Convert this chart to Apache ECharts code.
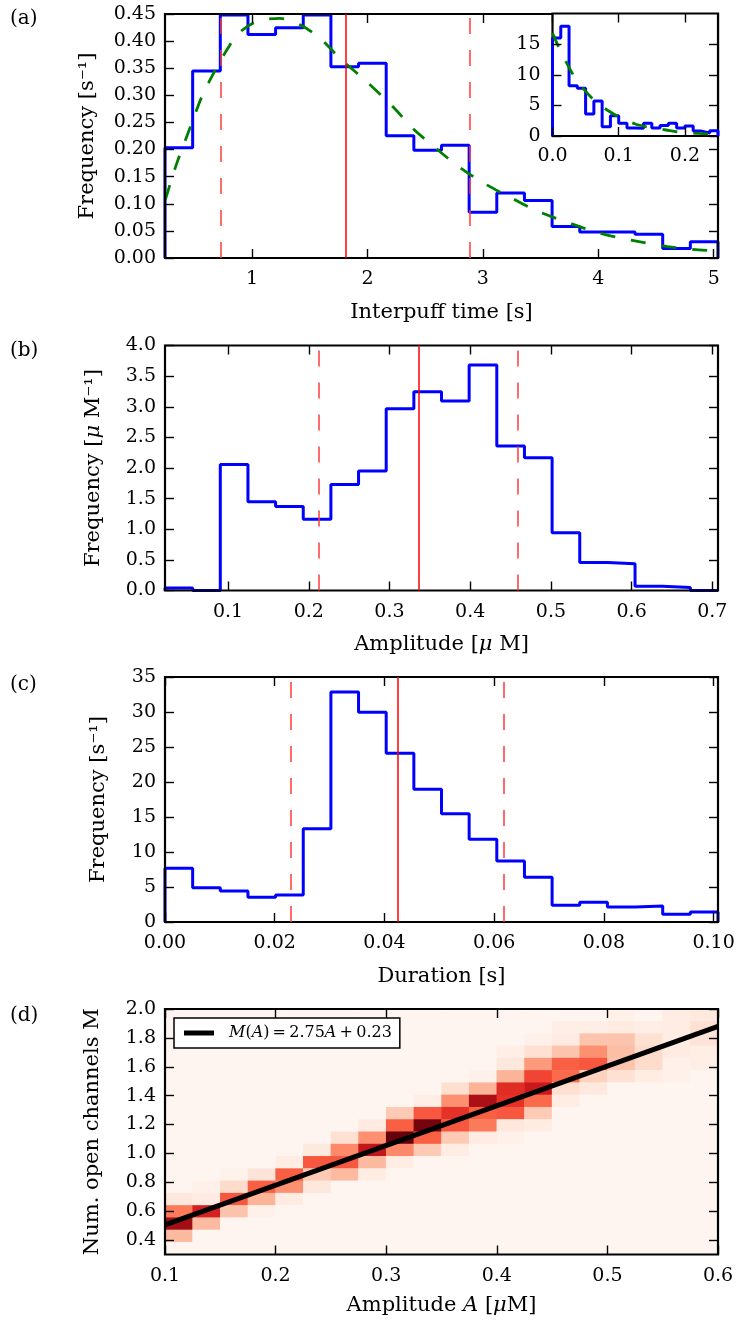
<!DOCTYPE html>
<html><head><meta charset="utf-8">
<script src="https://cdn.jsdelivr.net/npm/echarts@6.0.0/dist/echarts.min.js"></script>
<style>html,body{margin:0;padding:0;background:#fff}#c{width:736px;height:1322px}</style>
</head><body><div id="c"></div><script>
// ---------- data ----------
const interpuffRange = [0.246, 5.037];
const interpuffFreq = [0.2035, 0.345, 0.448, 0.412, 0.4245, 0.448, 0.3527, 0.359, 0.2256, 0.1987,
                       0.208, 0.0845, 0.12, 0.106, 0.058, 0.048, 0.048, 0.044, 0.0177, 0.030];
const interpuffFitX = [0.25, 0.347, 0.477, 0.564, 0.665, 0.78, 0.881, 1.04, 1.243, 1.416, 1.59, 1.763, 1.994,
                       2.225, 2.398, 2.60, 2.80, 3.00, 3.236, 3.467, 3.73, 4.007, 4.28, 4.6, 4.87, 5.037];
const interpuffFitY = [0.108, 0.174, 0.248, 0.297, 0.340, 0.383, 0.414, 0.436, 0.442, 0.430, 0.405, 0.368, 0.325,
                       0.278, 0.238, 0.201, 0.167, 0.139, 0.112, 0.087, 0.066, 0.046, 0.033, 0.021, 0.015, 0.013];
const interpuffLines = [0.731, 1.812, 2.889];   // mean-std, mean, mean+std

const insetRange = [0, 0.25];
const insetFreq = [16.0, 17.9, 8.2, 7.8, 3.6, 5.7, 1.5, 3.3, 2.1, 1.3, 1.25, 2.1, 1.3, 1.7, 2.1, 1.3, 1.65, 0.8, 0.5, 0.85];
const insetFitX = [0.0, 0.009, 0.0205, 0.0315, 0.0475, 0.0625, 0.0825, 0.1, 0.125, 0.1475, 0.1715, 0.195, 0.22, 0.25];
const insetFitY = [16.8, 14.6, 12.1, 9.95, 7.6, 5.9, 4.24, 3.15, 1.96, 1.4, 0.98, 0.6, 0.43, 0.2];

const ampRange = [0.0219, 0.707];
const ampFreq = [0.042, 0, 2.059, 1.448, 1.373, 1.165, 1.732, 1.949, 2.967, 3.245,
                 3.093, 3.681, 2.358, 2.167, 0.941, 0.458, 0.435, 0.07, 0.049, 0];
const ampLines = [0.2128, 0.3358, 0.4589];

const durRange = [0, 0.1008];
const durFreq = [7.67, 4.9, 4.43, 3.53, 3.86, 13.33, 32.86, 29.96, 24.1, 18.96,
                 15.47, 11.81, 8.71, 6.39, 2.39, 2.81, 2.14, 2.29, 1.1, 1.43];
const durLines = [0.0230, 0.0425, 0.0618];

// heatmap intensities (0-100); rows listed from top (M≈2.0) to bottom (M≈0.3), 20 amplitude columns 0.1..0.6
const heatRowsTopDown = [
  [0,0,0,0,0,0,0,0,0,0,0,0,0,0,0,0,3,0,5,7],
  [0,0,0,0,0,0,0,0,0,0,0,0,0,0,4,4,6,4,5,12],
  [0,0,0,0,0,0,0,0,0,0,0,0,0,3,6,22,22,12,5,10],
  [0,0,0,0,0,0,0,0,0,0,0,0,4,12,22,38,24,14,6,4],
  [0,0,0,0,0,0,0,0,0,0,0,0,8,35,53,55,22,14,3,4],
  [0,0,0,0,0,0,0,0,0,0,0,3,27,60,50,17,12,5,3,0],
  [0,0,0,0,0,0,0,0,0,0,13,27,68,75,13,7,0,0,0,0],
  [0,0,0,0,0,0,0,0,0,4,38,86,66,50,5,0,0,0,0,0],
  [0,0,0,0,0,0,0,0,20,55,66,53,55,20,0,0,0,0,0,0],
  [0,0,0,0,0,0,0,6,53,97,55,45,8,5,0,0,0,0,0,0],
  [0,0,0,0,0,0,12,38,100,53,20,6,3,0,0,0,0,0,0,0],
  [0,0,0,0,0,7,40,78,40,20,5,0,0,0,0,0,0,0,0,0],
  [0,0,0,0,5,55,55,25,5,0,0,0,0,0,0,0,0,0,0,0],
  [0,0,2,10,53,20,25,5,0,0,0,0,0,0,0,0,0,0,0,0],
  [0,3,14,53,38,8,0,0,0,0,0,0,0,0,0,0,0,0,0,0],
  [8,6,55,27,6,0,0,0,0,0,0,0,0,0,0,0,0,0,0,0],
  [45,72,22,3,0,0,0,0,0,0,0,0,0,0,0,0,0,0,0,0],
  [88,25,0,0,0,0,0,0,0,0,0,0,0,0,0,0,0,0,0,0],
  [25,0,0,0,0,0,0,0,0,0,0,0,0,0,0,0,0,0,0,0],
  [0,0,0,0,0,0,0,0,0,0,0,0,0,0,0,0,0,0,0,0]
];
const heatAmpRange = [0.1, 0.6];
const heatMRange = [0.3, 2.0];
const fitLineA = [0.1, 0.6];
const fitLineM = [0.505, 1.88];

// tick labels
const aXTicks = [1, 2, 3, 4, 5];
const aYTicks = [0, 0.05, 0.10, 0.15, 0.20, 0.25, 0.30, 0.35, 0.40, 0.45];
const insetXTicks = [0, 0.1, 0.2];
const insetYTicks = [0, 5, 10, 15];
const bXTicks = [0.1, 0.2, 0.3, 0.4, 0.5, 0.6, 0.7];
const bYTicks = [0, 0.5, 1.0, 1.5, 2.0, 2.5, 3.0, 3.5, 4.0];
const cXTicks = [0, 0.02, 0.04, 0.06, 0.08, 0.10];
const cYTicks = [0, 5, 10, 15, 20, 25, 30, 35];
const dXTicks = [0.1, 0.2, 0.3, 0.4, 0.5, 0.6];
const dYTicks = [0.4, 0.6, 0.8, 1.0, 1.2, 1.4, 1.6, 1.8, 2.0];

const REDS = ['#fff5f0','#fee0d2','#fcbba1','#fc9272','#fb6a4a','#ef3b2c','#cb181d','#a50f15','#67000d'];

// ---------- helpers ----------
const FONT = 'DejaVu Serif';
function stepPoints(range, vals) {
  const n = vals.length, w = (range[1] - range[0]) / n;
  const pts = [[range[0], 0]];
  vals.forEach((v, i) => pts.push([range[0] + i * w, v]));
  pts.push([range[1], vals[n - 1]]);
  pts.push([range[1], 0]);
  return pts;
}
function zip(xs, ys) { return xs.map((x, i) => [x, ys[i]]); }
const nameStyle = {
  fontFamily: FONT, fontSize: 21, color: '#000',
  rich: { i: { fontFamily: FONT, fontSize: 21, fontStyle: 'italic', color: '#000' } }
};
function axis(gridIndex, min, max, ticks, extra) {
  const base = {
    type: 'value', gridIndex, min, max, z: 4,
    axisLine: { show: false, onZero: false },
    splitLine: { show: false },
    axisTick: { show: true, inside: true, length: 9, lineStyle: { color: '#000', width: 1.4 }, customValues: ticks },
    axisLabel: { show: false, customValues: ticks },
    nameMoveOverlap: false
  };
  return Object.assign(base, extra || {});
}
function labels(ticks, fmt, margin) {
  return { show: true, customValues: ticks, formatter: fmt, color: '#000', fontFamily: FONT, fontSize: 19, margin: margin };
}
const f0 = v => String(Math.round(v));
const f1 = v => v.toFixed(1);
const f2 = v => v.toFixed(2);
function vLines(vals) {
  return {
    silent: true, symbol: ['none', 'none'], label: { show: false }, animation: false, precision: 6,
    data: vals.map((v, i) => ({
      xAxis: v,
      lineStyle: i === 1 ? { color: '#ff0000', width: 1.5, type: 'solid' }
                         : { color: '#ff3b3b', width: 1.5, type: [16, 16] }
    }))
  };
}

const heatData = [];
heatRowsTopDown.forEach((row, k) => {
  const r = heatRowsTopDown.length - 1 - k;
  row.forEach((v, c) => heatData.push([c, r, v]));
});
const cats = Array.from({ length: 20 }, (_, i) => String(i));

const gridBase = { show: true, borderColor: '#000', borderWidth: 2.2, backgroundColor: 'transparent',
                   containLabel: false, outerBoundsMode: 'none' };

const option = {
  animation: false,
  backgroundColor: '#fff',
  textStyle: { fontFamily: FONT },
  grid: [
    Object.assign({}, gridBase, { left: 165, top: 14, width: 553, height: 244, z: 3 }),
    Object.assign({}, gridBase, { left: 552.5, top: 13.5, width: 165.5, height: 122.5, z: 10, backgroundColor: '#fff' }),
    Object.assign({}, gridBase, { left: 165, top: 345.5, width: 553, height: 245, z: 3 }),
    Object.assign({}, gridBase, { left: 165, top: 677, width: 553, height: 245, z: 3 }),
    Object.assign({}, gridBase, { left: 165, top: 1009, width: 553, height: 245.5, z: 1, show: false }),
    Object.assign({}, gridBase, { left: 165, top: 1009, width: 553, height: 245.5, z: 5 })
  ],
  xAxis: [
    axis(0, interpuffRange[0], interpuffRange[1], aXTicks, { position: 'bottom', axisLabel: labels(aXTicks, f0, 12),
      name: 'Interpuff time [s]', nameLocation: 'middle', nameGap: 44, nameTextStyle: nameStyle }),
    axis(0, interpuffRange[0], interpuffRange[1], aXTicks, { position: 'top' }),
    axis(1, insetRange[0], insetRange[1], insetXTicks, { position: 'bottom', z: 12, axisLabel: labels(insetXTicks, f1, 11) }),
    axis(1, insetRange[0], insetRange[1], insetXTicks, { position: 'top', z: 12 }),
    axis(2, ampRange[0], ampRange[1], bXTicks, { position: 'bottom', axisLabel: labels(bXTicks, f1, 12),
      name: 'Amplitude [{i|μ} M]', nameLocation: 'middle', nameGap: 44, nameTextStyle: nameStyle }),
    axis(2, ampRange[0], ampRange[1], bXTicks, { position: 'top' }),
    axis(3, durRange[0], durRange[1], cXTicks, { position: 'bottom', axisLabel: labels(cXTicks, f2, 12),
      name: 'Duration [s]', nameLocation: 'middle', nameGap: 44, nameTextStyle: nameStyle }),
    axis(3, durRange[0], durRange[1], cXTicks, { position: 'top' }),
    { type: 'category', gridIndex: 4, data: cats, show: false },
    axis(5, heatAmpRange[0], heatAmpRange[1], dXTicks, { position: 'bottom', z: 6, axisLabel: labels(dXTicks, f1, 12),
      name: 'Amplitude {i|A} [{i|μ}M]', nameLocation: 'middle', nameGap: 41, nameTextStyle: nameStyle }),
    axis(5, heatAmpRange[0], heatAmpRange[1], dXTicks, { position: 'top', z: 6 })
  ],
  yAxis: [
    axis(0, 0, 0.45, aYTicks, { position: 'left', axisLabel: labels(aYTicks, f2, 9),
      name: 'Frequency [s⁻¹]', nameLocation: 'middle', nameRotate: 90, nameGap: 67, nameTextStyle: nameStyle }),
    axis(0, 0, 0.45, aYTicks, { position: 'right' }),
    axis(1, 0, 20, insetYTicks, { position: 'left', z: 12, axisLabel: labels(insetYTicks, f0, 12) }),
    axis(1, 0, 20, insetYTicks, { position: 'right', z: 12 }),
    axis(2, 0, 4, bYTicks, { position: 'left', axisLabel: labels(bYTicks, f1, 9),
      name: 'Frequency [{i|μ} M⁻¹]', nameLocation: 'middle', nameRotate: 90, nameGap: 61, nameTextStyle: nameStyle }),
    axis(2, 0, 4, bYTicks, { position: 'right' }),
    axis(3, 0, 35, cYTicks, { position: 'left', axisLabel: labels(cYTicks, f0, 9),
      name: 'Frequency [s⁻¹]', nameLocation: 'middle', nameRotate: 90, nameGap: 56, nameTextStyle: nameStyle }),
    axis(3, 0, 35, cYTicks, { position: 'right' }),
    { type: 'category', gridIndex: 4, data: cats, show: false },
    axis(5, heatMRange[0], heatMRange[1], dYTicks, { position: 'left', z: 6, axisLabel: labels(dYTicks, f1, 9),
      name: 'Num. open channels M', nameLocation: 'middle', nameRotate: 90, nameGap: 62, nameTextStyle: nameStyle }),
    axis(5, heatMRange[0], heatMRange[1], dYTicks, { position: 'right', z: 6 })
  ],
  visualMap: [{
    type: 'continuous', show: false, seriesIndex: 6, min: 0, max: 100, dimension: 2,
    inRange: { color: REDS }
  }],
  legend: {
    show: true, data: ['fit'], left: 174, top: 1018, orient: 'horizontal', z: 20,
    padding: [7, 8, 7, 10], itemWidth: 30, itemHeight: 5, icon: 'rect', selectedMode: false,
    backgroundColor: '#fff', borderColor: '#000', borderWidth: 1.5, borderRadius: 0,
    formatter: () => '{s|}{i|M}({i|A})\u2009=\u20092.75{i|A}\u2009+\u20090.23',
    textStyle: { fontFamily: FONT, fontSize: 16, color: '#000',
      rich: { s: { width: 10 }, i: { fontFamily: FONT, fontSize: 16, fontStyle: 'italic', color: '#000' } } }
  },
  series: [
    { type: 'line', xAxisIndex: 0, yAxisIndex: 0, step: 'end', data: stepPoints(interpuffRange, interpuffFreq),
      showSymbol: false, symbol: 'none', lineStyle: { color: '#0000ff', width: 3 }, z: 2,
      markLine: vLines(interpuffLines) },
    { type: 'line', xAxisIndex: 0, yAxisIndex: 0, data: zip(interpuffFitX, interpuffFitY), smooth: 0.3,
      showSymbol: false, symbol: 'none', lineStyle: { color: '#008000', width: 2.8, type: [15, 16] }, z: 2 },
    { type: 'line', xAxisIndex: 2, yAxisIndex: 2, step: 'end', data: stepPoints(insetRange, insetFreq),
      showSymbol: false, symbol: 'none', lineStyle: { color: '#0000ff', width: 3 }, z: 11 },
    { type: 'line', xAxisIndex: 2, yAxisIndex: 2, data: zip(insetFitX, insetFitY), smooth: 0.3,
      showSymbol: false, symbol: 'none', lineStyle: { color: '#008000', width: 2.8, type: [15, 16] }, z: 11 },
    { type: 'line', xAxisIndex: 4, yAxisIndex: 4, step: 'end', data: stepPoints(ampRange, ampFreq),
      showSymbol: false, symbol: 'none', lineStyle: { color: '#0000ff', width: 3 }, z: 2,
      markLine: vLines(ampLines) },
    { type: 'line', xAxisIndex: 6, yAxisIndex: 6, step: 'end', data: stepPoints(durRange, durFreq),
      showSymbol: false, symbol: 'none', lineStyle: { color: '#0000ff', width: 3 }, z: 2,
      markLine: vLines(durLines) },
    { type: 'heatmap', xAxisIndex: 8, yAxisIndex: 8, data: heatData, z: 1, silent: true,
      emphasis: { disabled: true }, itemStyle: { borderWidth: 0 } },
    { type: 'line', name: 'fit', xAxisIndex: 9, yAxisIndex: 9, data: zip(fitLineA, fitLineM),
      showSymbol: false, symbol: 'none', itemStyle: { color: '#000' }, lineStyle: { color: '#000', width: 5 }, z: 6 }
  ],
  graphic: [
    { type: 'text', left: 10, top: 9, style: { text: '(a)', fontFamily: FONT, fontSize: 20, fill: '#000' } },
    { type: 'text', left: 10, top: 341, style: { text: '(b)', fontFamily: FONT, fontSize: 20, fill: '#000' } },
    { type: 'text', left: 10, top: 675, style: { text: '(c)', fontFamily: FONT, fontSize: 20, fill: '#000' } },
    { type: 'text', left: 10, top: 1006, style: { text: '(d)', fontFamily: FONT, fontSize: 20, fill: '#000' } }
  ]
};
const chart = echarts.init(document.getElementById('c'));
chart.setOption(option);
</script></body></html>
